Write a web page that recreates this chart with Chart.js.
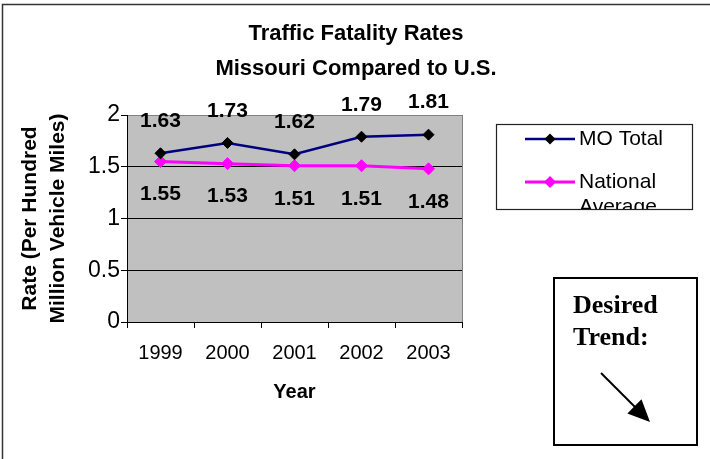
<!DOCTYPE html>
<html><head><meta charset="utf-8">
<script src="https://cdn.jsdelivr.net/npm/chart.js@4.4.0/dist/chart.umd.min.js"></script>
<style>html,body{margin:0;padding:0;background:#fff;} canvas{display:block;}</style>
</head><body>
<canvas id="c" width="710" height="459"></canvas>
<script>
const years = ['1999', '2000', '2001', '2002', '2003'];
const moTotal = [1.63, 1.73, 1.62, 1.79, 1.81];
const nationalAvg = [1.55, 1.53, 1.51, 1.51, 1.48];
const yTicks = [0, 0.5, 1, 1.5, 2];
const yTickLabels = ['0', '0.5', '1', '1.5', '2'];
const seriesNames = ['MO Total', 'National Average'];
const legendLines = [['MO Total'], ['National', 'Average']];
const titleLines = ['Traffic Fatality Rates', 'Missouri Compared to U.S.'];
const yTitleLines = ['Rate (Per Hundred', 'Million Vehicle Miles)'];
const xTitle = 'Year';
const trendText = ['Desired', 'Trend:'];

const SANS = "'Liberation Sans', Arial, sans-serif";
const SERIF = "'Liberation Serif', 'Times New Roman', serif";

const deco = {
  id: 'deco',
  beforeDraw(chart) {
    const {ctx, chartArea: a} = chart;
    ctx.save();
    ctx.fillStyle = '#fff';
    ctx.fillRect(0, 0, chart.width, chart.height);
    ctx.fillStyle = '#c0c0c0';
    ctx.fillRect(a.left, a.top, a.right - a.left, a.bottom - a.top);
    ctx.restore();
  },
  afterDatasetsDraw(chart) {
    const ctx = chart.ctx;
    ctx.save();
    ctx.font = 'bold 21px ' + SANS;
    ctx.fillStyle = '#000';
    ctx.textAlign = 'center';
    ctx.textBaseline = 'middle';
    chart.data.datasets.forEach((ds, di) => {
      const meta = chart.getDatasetMeta(di);
      meta.data.forEach((pt, i) => {
        const off = di === 0 ? -32 : 33;
        ctx.fillText(ds.data[i].toFixed(2), pt.x, pt.y + off);
      });
    });
    ctx.restore();
  },
  afterDraw(chart) {
    const {ctx, chartArea: a} = chart;
    ctx.save();
    // plot area right border
    ctx.strokeStyle = '#808080';
    ctx.lineWidth = 1;
    ctx.beginPath();
    ctx.moveTo(a.right + 0.5, a.top);
    ctx.lineTo(a.right + 0.5, a.bottom);
    ctx.stroke();

    // title
    ctx.fillStyle = '#000';
    ctx.font = 'bold 22px ' + SANS;
    ctx.textAlign = 'center';
    ctx.textBaseline = 'middle';
    ctx.fillText(titleLines[0], 356, 34);
    ctx.fillText(titleLines[1], 356, 69);

    // legend
    ctx.strokeStyle = '#222';
    ctx.lineWidth = 1.2;
    ctx.strokeRect(496.5, 124.5, 196, 85);
    ctx.save();
    ctx.beginPath();
    ctx.rect(497, 125, 195, 84);
    ctx.clip();
    const ly = [139, 182];
    chart.data.datasets.forEach((ds, di) => {
      const y = ly[di];
      ctx.strokeStyle = ds.borderColor;
      ctx.lineWidth = ds.borderWidth;
      ctx.beginPath();
      ctx.moveTo(525, y);
      ctx.lineTo(575, y);
      ctx.stroke();
      const r = ds.pointRadius;
      ctx.fillStyle = ds.pointBackgroundColor;
      ctx.beginPath();
      ctx.moveTo(550, y - r);
      ctx.lineTo(550 + r, y);
      ctx.lineTo(550, y + r);
      ctx.lineTo(550 - r, y);
      ctx.closePath();
      ctx.fill();
      ctx.fillStyle = '#000';
      ctx.font = '21px ' + SANS;
      ctx.textAlign = 'left';
      ctx.textBaseline = 'middle';
      legendLines[di].forEach((t, k) => ctx.fillText(t, 579, y + k * 25));
    });
    ctx.restore();

    // desired trend box
    ctx.strokeStyle = '#000';
    ctx.lineWidth = 2;
    ctx.strokeRect(554, 278, 143, 167);
    ctx.fillStyle = '#000';
    ctx.font = 'bold 26px ' + SERIF;
    ctx.textAlign = 'left';
    ctx.textBaseline = 'alphabetic';
    ctx.fillText(trendText[0], 573, 313);
    ctx.fillText(trendText[1], 573, 345);
    // arrow
    ctx.lineWidth = 2;
    ctx.beginPath();
    ctx.moveTo(601, 373);
    ctx.lineTo(637, 409);
    ctx.stroke();
    ctx.beginPath();
    ctx.moveTo(650, 422);
    ctx.lineTo(627.3, 413.5);
    ctx.lineTo(641.5, 399.3);
    ctx.closePath();
    ctx.fill();

    // outer frame (cropped)
    ctx.strokeStyle = '#333';
    ctx.lineWidth = 1.5;
    ctx.beginPath();
    ctx.moveTo(2.5, 459);
    ctx.lineTo(2.5, 4.5);
    ctx.lineTo(710, 4.5);
    ctx.stroke();
    ctx.restore();
  }
};

new Chart(document.getElementById('c'), {
  type: 'line',
  data: {
    labels: years,
    datasets: [
      {label: seriesNames[0], data: moTotal, borderColor: '#000080', borderWidth: 2.5,
       pointStyle: 'rectRot', pointRadius: 5.5, pointBackgroundColor: '#000', pointBorderColor: '#000',
       pointBorderWidth: 1, tension: 0, clip: false},
      {label: seriesNames[1], data: nationalAvg, borderColor: '#ff00ff', borderWidth: 3,
       pointStyle: 'rectRot', pointRadius: 6, pointBackgroundColor: '#ff00ff', pointBorderColor: '#ff00ff',
       pointBorderWidth: 1, tension: 0, clip: false}
    ]
  },
  options: {
    responsive: false,
    animation: false,
    devicePixelRatio: 1,
    layout: {padding: {top: 115, right: 248, left: 0, bottom: 0}},
    plugins: {legend: {display: false}, title: {display: false}, tooltip: {enabled: false}},
    scales: {
      x: {
        type: 'category', offset: true,
        grid: {offset: true, drawOnChartArea: false, drawTicks: true, tickLength: 6, color: '#000', tickColor: '#000'},
        border: {color: '#000', width: 1},
        ticks: {font: {family: SANS, size: 20}, color: '#000', padding: 13, maxRotation: 0, autoSkip: false},
        title: {display: true, text: xTitle, font: {family: SANS, size: 20, weight: 'bold'}, color: '#000', padding: {top: 0, bottom: 55}},
        afterFit: s => { s.height = 137; }
      },
      y: {
        min: 0, max: 2,
        afterBuildTicks: s => { s.ticks = yTicks.map(v => ({value: v})); },
        ticks: {font: {family: SANS, size: 23}, color: '#000', padding: 1,
                callback: v => yTickLabels[yTicks.indexOf(v)]},
        grid: {color: c => (c.tick && c.tick.value === 2) ? '#808080' : '#000', tickColor: '#000', tickLength: 6, lineWidth: 1},
        border: {color: '#000', width: 1},
        title: {display: true, text: yTitleLines, font: {family: SANS, size: 21, weight: 'bold', lineHeight: 1.333}, color: '#000', padding: {top: 16, bottom: 0}},
        afterFit: s => { s.width = 127; }
      }
    }
  },
  plugins: [deco]
});
</script>
</body></html>
